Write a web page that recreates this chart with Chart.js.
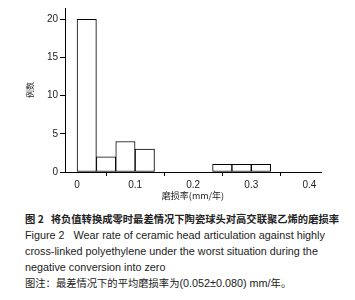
<!DOCTYPE html>
<html>
<head>
<meta charset="utf-8">
<script src="https://cdn.jsdelivr.net/npm/chart.js@4"></script>
<style>
  html, body { margin: 0; padding: 0; background: #fff; }
  #wrap { position: relative; width: 355px; height: 300px; overflow: hidden; }
  #chartDesgaste { position: absolute; left: 0; top: 0; }
  #pie { position: absolute; left: 25px; top: 211px; width: 330px; color: #222;
         font-family: "Liberation Sans", Arial, "Noto Sans CJK SC", sans-serif; font-size: 10.8px; line-height: 16px; white-space: nowrap; }
  .zh { font-family: "Noto Sans CJK SC", sans-serif; font-size: 10.3px; }
  .b { font-weight: bold; }
</style>
</head>
<body>
<div id="wrap">
  <canvas id="chartDesgaste" width="355" height="205"></canvas>
  <div id="pie">
    <div class="zh b">图 2&nbsp;&nbsp;&nbsp;将负值转换成零时最差情况下陶瓷球头对高交联聚乙烯的磨损率</div>
    <div>Figure 2&nbsp;&nbsp;&nbsp;Wear rate of ceramic head articulation against highly</div>
    <div>cross-linked polyethylene under the worst situation during the</div>
    <div>negative conversion into zero</div>
    <div><span class="zh">图注：最差情况下的平均磨损率为</span>(0.052±0.080) mm/<span class="zh">年。</span></div>
  </div>
</div>
<script>
// ============================================================
// DATOS DEL HISTOGRAMA
// ============================================================
let binCenters = [0.0167, 0.05, 0.0833, 0.1167, 0.25, 0.2833, 0.3167];
let counts = [20, 2, 4, 3, 1, 1, 1];
let xTicks = [0, 0.1, 0.2, 0.3, 0.4];
let yTicks = [0, 5, 10, 15, 20];
let xTitle = '磨损率(mm/年)';
let yTitle = '例数';

// ============================================================
// GRÁFICO
// ============================================================
window.initGraficoDesgaste = function() {
    let ctx = document.getElementById('chartDesgaste');
    if (!ctx) return null;
    let fuente = { family: '"Liberation Sans", Arial, sans-serif', size: 10 };

    return new Chart(ctx.getContext('2d'), {
        type: 'bar',
        data: {
            datasets: [{
                data: binCenters.map((c, i) => ({ x: c, y: counts[i] })),
                backgroundColor: '#ffffff',
                borderColor: '#000000',
                borderWidth: 1,
                borderSkipped: false,
                barPercentage: 1,
                categoryPercentage: 1
            }]
        },
        options: {
            responsive: false, animation: false,
            layout: { padding: { left: 0, right: 34, top: 3, bottom: 0 } },
            plugins: { legend: { display: false }, tooltip: { enabled: false } },
            scales: {
                x: {
                    type: 'linear', min: -0.0207, max: 0.42, offset: false,
                    afterBuildTicks: (s) => { s.ticks = xTicks.map(v => ({ value: v })); },
                    afterFit: (s) => { s.height = 33; },
                    border: { display: true, color: '#000', width: 1 },
                    grid: { drawOnChartArea: false, drawTicks: true, tickLength: 4, color: '#000' },
                    ticks: { color: '#222', font: fuente, padding: 3, maxRotation: 0,
                             callback: (v) => String(v) },
                    title: { display: true, text: xTitle, color: '#222',
                             font: { family: '"Noto Sans CJK SC", sans-serif', size: 9 },
                             padding: { top: 0, bottom: 4 } }
                },
                y: {
                    min: 0, max: 21.5,
                    afterBuildTicks: (s) => { s.ticks = yTicks.map(v => ({ value: v })); },
                    afterFit: (s) => { s.width = 65; },
                    border: { display: true, color: '#000', width: 1 },
                    grid: { drawOnChartArea: false, drawTicks: true, tickLength: 5, color: '#000' },
                    ticks: { color: '#222', font: fuente, padding: 2 },
                    title: { display: true, text: yTitle, color: '#222',
                             font: { family: '"Noto Sans CJK SC", sans-serif', size: 8 },
                             padding: { top: 25, bottom: 0 } }
                }
            }
        }
    });
};

window.initGraficoDesgaste();
</script>
</body>
</html>
